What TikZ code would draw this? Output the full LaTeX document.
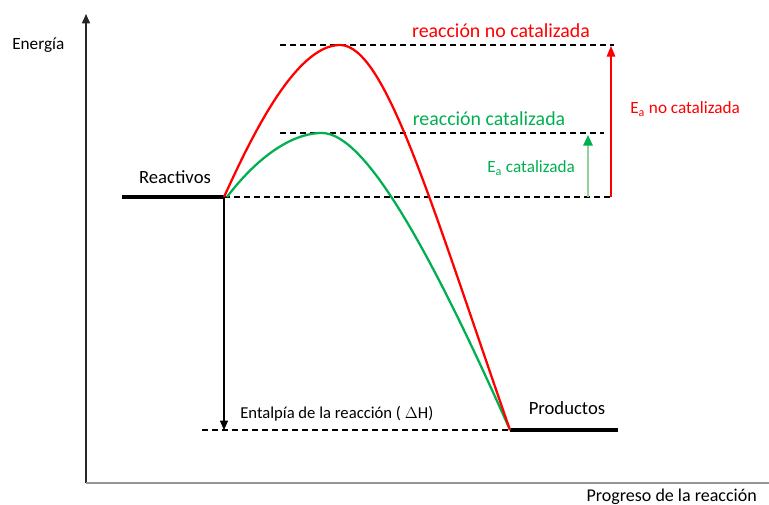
\documentclass[tikz,border=0pt]{standalone}
\usepackage{fontspec}
\setmainfont{Carlito}
\usepackage{tikz}
\usetikzlibrary{arrows.meta}
\definecolor{catred}{RGB}{255,0,0}
\definecolor{catgreen}{RGB}{0,176,80}
\definecolor{palegreen}{RGB}{146,208,160}
\definecolor{axisgray}{RGB}{150,150,150}

\begin{document}
\begin{tikzpicture}[x=0.75pt,y=-0.75pt]
\tikzstyle{level}=[line width=3pt]
\tikzstyle{guide}=[line width=1pt,dash pattern=on 4.5pt off 3pt]
\tikzstyle{path}=[line width=1.7pt]
\tikzstyle{title}=[font=\fontsize{14.9}{17}\selectfont,inner sep=0pt]
\tikzstyle{big}=[font=\fontsize{14}{17}\selectfont,inner sep=0pt]
\tikzstyle{small}=[font=\fontsize{12.9}{15}\selectfont,inner sep=0pt]
\useasboundingbox (0,0) rectangle (769,505);
\foreach \name/\point in {
	yb/{86,483},
	yt/{86,14},
	xe/{775,483},
	r0/{122,197},
	r1/{224,197},
	g0/{227,197},
	c1/{614,197},
	p0/{510,430},
	p1/{618,430},
	d0/{202,430},
	h1/{224,430},
	tsred/{340,45},
	tsgreen/{322,133},
	a0/{280,45},
	a1/{614,45},
	b0/{280,133},
	b1/{604,133},
	e0/{611,197},
	e1/{611,46},
	f0/{588,197},
	f1/{588,135}}
	\coordinate (\name) at (\point);
% axes
\draw[line width=1.1pt,black!85,-{Triangle[length=7pt,width=6pt]}] (yb) -- (yt);
\draw[line width=1.3pt,axisgray] (yb) -- (xe);
% levels
\draw[level] (r0) -- (r1);
\draw[level] (p0) -- (p1);
\draw[guide] (r1) -- (c1);
\draw[guide] (d0) -- (p0);
\draw[guide] (a0) -- (a1);
\draw[guide] (b0) -- (b1);
% enthalpy and activation energies
\draw[line width=0.8pt,-{Triangle[length=7pt,width=6pt]}] (r1) -- (h1);
\draw[line width=0.8pt,catred,-{Triangle[length=8pt,width=6.5pt]}] (e0) -- (e1);
\draw[line width=1.6pt,palegreen,-{Triangle[length=8pt,width=7pt,color=catgreen]}] (f0) -- (f1);
% reaction paths
\draw[path,catgreen] (g0) .. controls (255,160) and (290,133) .. (tsgreen) .. controls (365,133) and (430,250) .. (p0);
\draw[path,catred] (r1) .. controls (250,140) and (295,45) .. (tsred) .. controls (385,45) and (430,200) .. (p0);
% labels
\node[small,anchor=west] (energia) at (12,45) {Energía};
\node[small,anchor=east,font=\fontsize{13.5}{16}\selectfont] (progreso) at (757,497) {Progreso de la reacción};
\node[big] (reactivos) at (175,177) {Reactivos};
\node[big] (productos) at (567,408) {Productos};
\node[small,anchor=west,font=\fontsize{12.5}{15}\selectfont] (entalpia) at (240,414) {Entalpía de la reacción ( $\Delta$H)};
\node[title,catred] (nocat) at (501,31) {reacción no catalizada};
\node[title,catgreen] (cat) at (489,119) {reacción catalizada};
\node[small,catred,anchor=west] (eanocat) at (630,109) {E\textsubscript{a} no catalizada};
\node[small,catgreen,anchor=west] (eacat) at (487,168) {E\textsubscript{a} catalizada};
\end{tikzpicture}
\end{document}
